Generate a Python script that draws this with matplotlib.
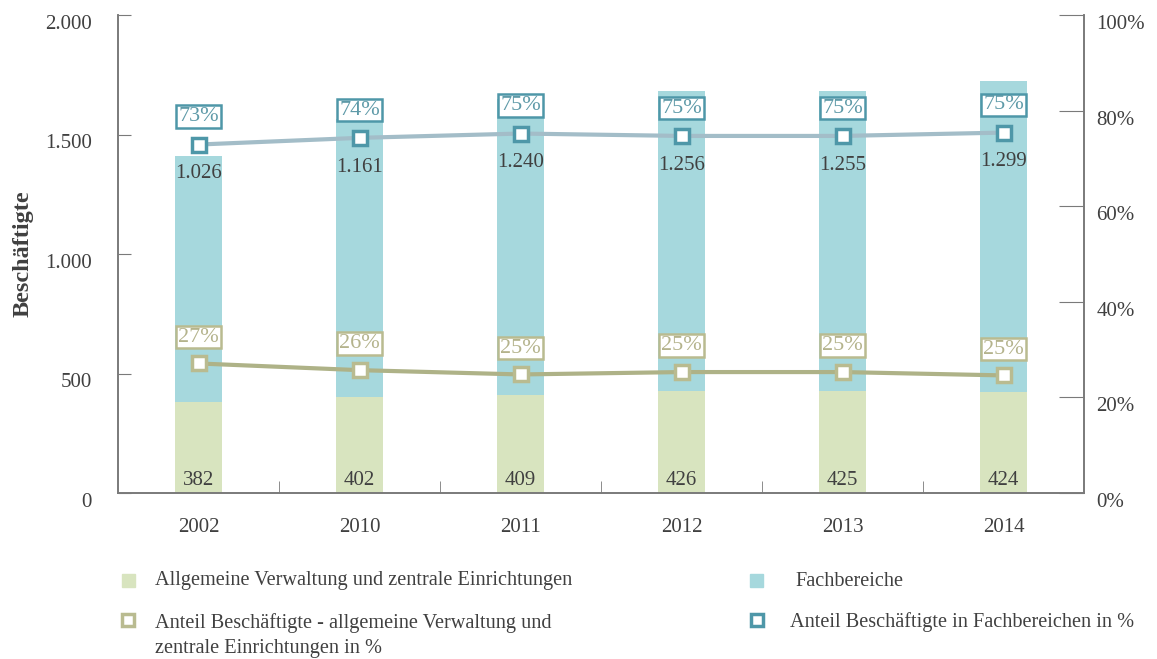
import matplotlib
matplotlib.use("Agg")
import matplotlib.pyplot as plt
import matplotlib.transforms as mtransforms
from matplotlib.lines import Line2D
from matplotlib.patches import Rectangle

# data
years = ["2002", "2010", "2011", "2012", "2013", "2014"]
verwaltung = [382, 402, 409, 426, 425, 424]
fachbereiche = [1026, 1161, 1240, 1256, 1255, 1299]
anteil_verwaltung = [27.1, 25.7, 24.8, 25.3, 25.3, 24.6]
anteil_fach = [72.9, 74.3, 75.2, 74.7, 74.7, 75.4]

legend_labels = [
    "Allgemeine Verwaltung und zentrale Einrichtungen",
    "Fachbereiche",
    "Anteil Beschäftigte - allgemeine Verwaltung und\nzentrale Einrichtungen in %",
    "Anteil Beschäftigte in Fachbereichen in %",
]

c_green_bar = "#d8e4bf"
c_blue_bar = "#a6d8dd"
c_blue_line = "#a3bdc8"
c_blue_mark = "#4e97a8"
c_green_line = "#aeb287"
c_green_mark = "#b9bb90"
c_text = "#404040"
c_axis = "#7a7a7a"

plt.rcParams["font.family"] = ["Liberation Serif", "DejaVu Serif"]
plt.rcParams["font.size"] = 14

W, H = 1157, 659
fig = plt.figure(figsize=(W / 100, H / 100), dpi=100)
ax = fig.add_axes([118 / W, 1 - 493 / H, 966 / W, 478 / H])
ax2 = ax.twinx()

x = list(range(len(years)))
w = 0.286
ax.bar(x, verwaltung, width=w, color=c_green_bar, zorder=2)
ax.bar(x, fachbereiche, width=w, bottom=verwaltung, color=c_blue_bar, zorder=2)

ax.set_xlim(-0.5, len(years) - 0.5)
ax.set_ylim(0, 2000)
ax.set_yticks([0, 500, 1000, 1500, 2000])
ax.set_yticklabels(["0", "500", "1.000", "1.500", "2.000"])
ax.set_xticks(x)
ax.set_xticklabels(years)
ax.set_xticks([i + 0.5 for i in x[:-1]], minor=True)
ax.tick_params(axis="x", which="major", length=0, pad=18, colors=c_text, labelsize=15)
ax.tick_params(axis="x", which="minor", direction="in", length=9, color=c_axis)
ax.tick_params(axis="y", direction="in", length=9, pad=19, color=c_axis,
               labelcolor=c_text, labelsize=15)
ax.set_ylabel("Beschäftigte", fontweight="bold", fontsize=17.5, color=c_text, labelpad=8)

ax2.set_ylim(0, 100)
ax2.set_yticks([0, 20, 40, 60, 80, 100])
ax2.set_yticklabels([f"{v}%" for v in [0, 20, 40, 60, 80, 100]])
ax2.tick_params(axis="y", direction="in", length=18, pad=9, color=c_axis,
                labelcolor=c_text, labelsize=15)

for a in (ax, ax2):
    a.spines["top"].set_visible(False)
    for s in ("left", "right", "bottom"):
        a.spines[s].set_color(c_axis)
        a.spines[s].set_linewidth(1.2)

# shift y tick labels slightly down as in the original
off = mtransforms.ScaledTranslation(0, -7 / 100, fig.dpi_scale_trans)
for lab in ax.get_yticklabels() + ax2.get_yticklabels():
    lab.set_transform(lab.get_transform() + off)

ax2.plot(x, anteil_fach, color=c_blue_line, lw=3, marker="s", ms=10,
         mfc="white", mec=c_blue_mark, mew=2.5, zorder=5)
ax2.plot(x, anteil_verwaltung, color=c_green_line, lw=3, marker="s", ms=10,
         mfc="white", mec=c_green_mark, mew=2.5, zorder=5)

for i in x:
    ax2.annotate(f"{round(anteil_fach[i])}%", (i, anteil_fach[i]), xytext=(0, 20),
                 textcoords="offset points", ha="center", va="center", fontsize=16,
                 color="#5e9aa8",
                 bbox=dict(boxstyle="square,pad=0.08", fc="white", ec=c_blue_mark, lw=1.8))
    ax2.annotate(f"{fachbereiche[i]:,}".replace(",", "."), (i, anteil_fach[i]),
                 xytext=(0, -21), textcoords="offset points", ha="center", va="center",
                 fontsize=15, color=c_text)
    ax2.annotate(f"{round(anteil_verwaltung[i])}%", (i, anteil_verwaltung[i]),
                 xytext=(0, 19), textcoords="offset points", ha="center", va="center",
                 fontsize=16, color="#b4b38c",
                 bbox=dict(boxstyle="square,pad=0.08", fc="white", ec=c_green_mark, lw=1.8))
    ax.annotate(f"{verwaltung[i]}", (i, 0), xytext=(0, 9), textcoords="offset points",
                ha="center", va="center", fontsize=15, color=c_text)

# legend drawn by hand below the plot (pixel positions of the original layout)
def fx(px):
    return px / W

def fy(py):
    return 1 - py / H

sq = 13
fig.add_artist(Rectangle((fx(128 - sq / 2), fy(580 + sq / 2)), sq / W, sq / H,
                         transform=fig.transFigure, color=c_green_bar))
fig.add_artist(Rectangle((fx(757 - sq / 2), fy(580 + sq / 2)), sq / W, sq / H,
                         transform=fig.transFigure, color=c_blue_bar))
fig.add_artist(Line2D([fx(128)], [fy(620)], transform=fig.transFigure, ls="none",
                      marker="s", ms=9, mfc="white", mec=c_green_mark, mew=2.5))
fig.add_artist(Line2D([fx(757)], [fy(620)], transform=fig.transFigure, ls="none",
                      marker="s", ms=9, mfc="white", mec=c_blue_mark, mew=2.5))

txt = dict(fontsize=14.6, color=c_text, ha="left", va="center")
fig.text(fx(155), fy(581), legend_labels[0], **txt)
fig.text(fx(795), fy(581), legend_labels[1], **txt)
fig.text(fx(155), fy(613), legend_labels[2], fontsize=14.6, color=c_text,
         ha="left", va="top", linespacing=1.45)
fig.text(fx(790), fy(622), legend_labels[3], **txt)

fig.savefig("out.png", dpi=100)
